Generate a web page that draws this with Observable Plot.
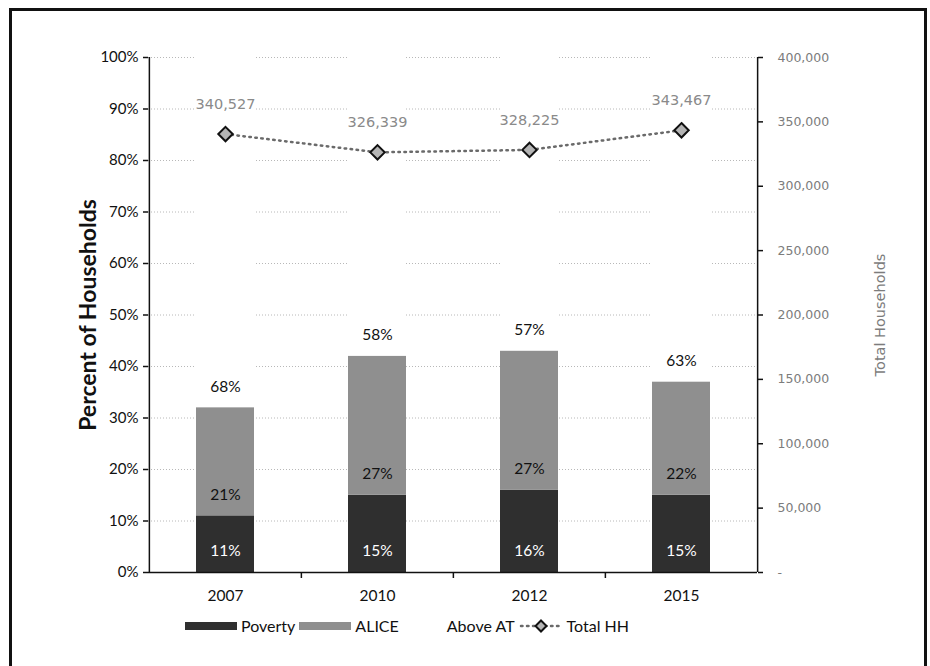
<!DOCTYPE html>
<html>
<head>
<meta charset="utf-8">
<script src="https://cdn.jsdelivr.net/npm/d3@7"></script>
<script src="https://cdn.jsdelivr.net/npm/@observablehq/plot@0.6"></script>
<style>
  body { margin: 0; background: #fff; }
  #wrap { position: relative; width: 930px; height: 666px; overflow: hidden; background: #fff; }
  #chart > svg { position: absolute; left: 0; top: 0; }
  #border { position: absolute; left: 9px; top: 8px; width: 912px; height: 720px;
            border: 3px solid #111; border-bottom: none; pointer-events: none; }
  #legend { position: absolute; top: 616px; left: 185px; display: flex; align-items: center;
            font-family: Lato, "Open Sans", sans-serif; font-size: 16px; color: #111; }
  #legend .item { display: flex; align-items: center; margin-right: 4px; }
  #legend .sw { width: 52px; height: 8px; margin-right: 4px; }
  #legend .sw.blank { width: 40px; }
</style>
</head>
<body>
<div id="wrap">
  <div id="chart"></div>
  <div id="border"></div>
  <div id="legend"></div>
</div>
<script>
// Household shares by year (percent) and total households
const years = ["2007", "2010", "2012", "2015"];
const poverty = [11, 15, 16, 15];
const alice = [21, 27, 27, 22];
const aboveAT = [68, 58, 57, 63];
const totalHH = [340527, 326339, 328225, 343467];

const groups = ["Poverty", "ALICE", "Above AT"];
const groupColors = ["#2f2f2f", "#8f8f8f", "#ffffff"];
const labelColors = {"Poverty": "#ffffff", "ALICE": "#111111", "Above AT": "#111111"};

const pctTicks = [0, 10, 20, 30, 40, 50, 60, 70, 80, 90, 100];
const hhTicks = [0, 50000, 100000, 150000, 200000, 250000, 300000, 350000, 400000];
const HH_MAX = 400000;

// Household counts share the percent axis: 400,000 sits at 100%
const toPct = v => v / HH_MAX * 100;
const fmtHH = d3.format(",");

const rows = years.map((year, i) => ({year, hh: totalHH[i]}));
const segments = years.flatMap((year, i) => [
  {year, group: "Poverty", value: poverty[i]},
  {year, group: "ALICE", value: alice[i]},
  {year, group: "Above AT", value: aboveAT[i]}
]);

const W = 930, H = 666;
const mL = 148, mR = 173, mT = 57, mB = 94;
const step = (W - mL - mR) / years.length;

const sansCal = "Lato, 'Open Sans', sans-serif";
const sansVer = "'DejaVu Sans', Verdana, sans-serif";
const grayText = "#7c7c7c";

const chart = Plot.plot({
  width: W,
  height: H,
  marginLeft: mL,
  marginRight: mR,
  marginTop: mT,
  marginBottom: mB,
  style: {background: "transparent", overflow: "visible"},
  x: {type: "band", domain: years, paddingInner: 0.62, paddingOuter: 0.31, axis: null},
  y: {domain: [0, 100], axis: null},
  color: {domain: groups, range: groupColors},
  marks: [
    Plot.gridY({ticks: pctTicks.slice(1), stroke: "#b8b8b8", strokeOpacity: 1, strokeDasharray: "1,2"}),
    Plot.barY(segments, {x: "year", y: "value", fill: "group", order: groups}),
    Plot.text(segments, Plot.stackY1({
      x: "year", y: "value", z: "group", order: groups,
      text: d => d.value + "%",
      fill: d => labelColors[d.group],
      dy: -21, fontSize: 15.5, fontFamily: sansCal
    })),
    // left axis
    Plot.ruleX([years[0]], {dx: -step / 2, y1: 0, y2: 100, stroke: "#111", strokeWidth: 1.5}),
    Plot.axisY({anchor: "left", ticks: pctTicks, tickFormat: d => d + "%", tickSize: 5, tickPadding: 5,
                fontSize: 15, fontFamily: sansCal, fill: "#111", stroke: "#111", strokeWidth: 1.5, label: null}),
    Plot.text(["Percent of Households"], {frameAnchor: "left", textAnchor: "middle", rotate: -90, dx: -60,
                fontSize: 23, fontWeight: "bold", fontFamily: sansCal, fill: "#111"}),
    // right axis (total households)
    Plot.ruleX([years[years.length - 1]], {dx: step / 2, y1: 0, y2: 100, stroke: "#111", strokeWidth: 1.5}),
    Plot.axisY({anchor: "right", ticks: hhTicks.map(toPct),
                tickFormat: (d, i) => hhTicks[i] === 0 ? "-" : fmtHH(hhTicks[i]),
                tickSize: 5, tickPadding: 15, fontSize: 12.5, fontFamily: sansVer,
                fill: grayText, stroke: "#111", strokeWidth: 1.5, label: null}),
    Plot.text(["Total Households"], {frameAnchor: "right", textAnchor: "middle", rotate: -90, dx: 123,
                fontSize: 14.5, fontFamily: sansVer, fill: grayText}),
    // x axis
    Plot.ruleY([0], {stroke: "#111", strokeWidth: 1.5}),
    Plot.axisX({ticks: years.slice(1), tickFormat: () => "", tickSize: 6, dx: -step / 2,
                stroke: "#111", strokeWidth: 1.5, label: null}),
    Plot.axisX({ticks: years, tickSize: 0, tickPadding: 17, fontSize: 15.5, fontFamily: sansCal,
                fill: "#111", label: null}),
    // total households line
    Plot.line(rows, {x: "year", y: d => toPct(d.hh), stroke: "#6a6a6a", strokeWidth: 2.5,
                     strokeDasharray: "1.5,4.5", strokeLinecap: "round"}),
    Plot.dot(rows, {x: "year", y: d => toPct(d.hh), symbol: "diamond2", r: 6.5,
                    fill: "#b5b5b5", stroke: "#111", strokeWidth: 2}),
    Plot.text(rows, {x: "year", y: d => toPct(d.hh), text: d => fmtHH(d.hh), dy: -30,
                     fontSize: 14.5, fontFamily: sansVer, fill: "#8a8a8a"})
  ]
});
document.getElementById("chart").appendChild(chart);

// legend
const legend = document.getElementById("legend");
groups.forEach((g, i) => {
  const item = document.createElement("div");
  item.className = "item";
  const sw = document.createElement("span");
  sw.className = groupColors[i] === "#ffffff" ? "sw blank" : "sw";
  sw.style.background = groupColors[i];
  const label = document.createElement("span");
  label.textContent = g;
  item.appendChild(sw);
  item.appendChild(label);
  legend.appendChild(item);
});
const lineItem = document.createElement("div");
lineItem.className = "item";
lineItem.innerHTML =
  '<svg width="44" height="14" style="margin-right:4px">' +
  '<line x1="2" y1="7" x2="42" y2="7" stroke="#6a6a6a" stroke-width="2.5" stroke-dasharray="1.5,4.5" stroke-linecap="round"/>' +
  '<path d="M22,1.5L27.5,7L22,12.5L16.5,7Z" fill="#b5b5b5" stroke="#111" stroke-width="2"/></svg>';
const lineLabel = document.createElement("span");
lineLabel.textContent = "Total HH";
lineItem.appendChild(lineLabel);
legend.appendChild(lineItem);
</script>
</body>
</html>
